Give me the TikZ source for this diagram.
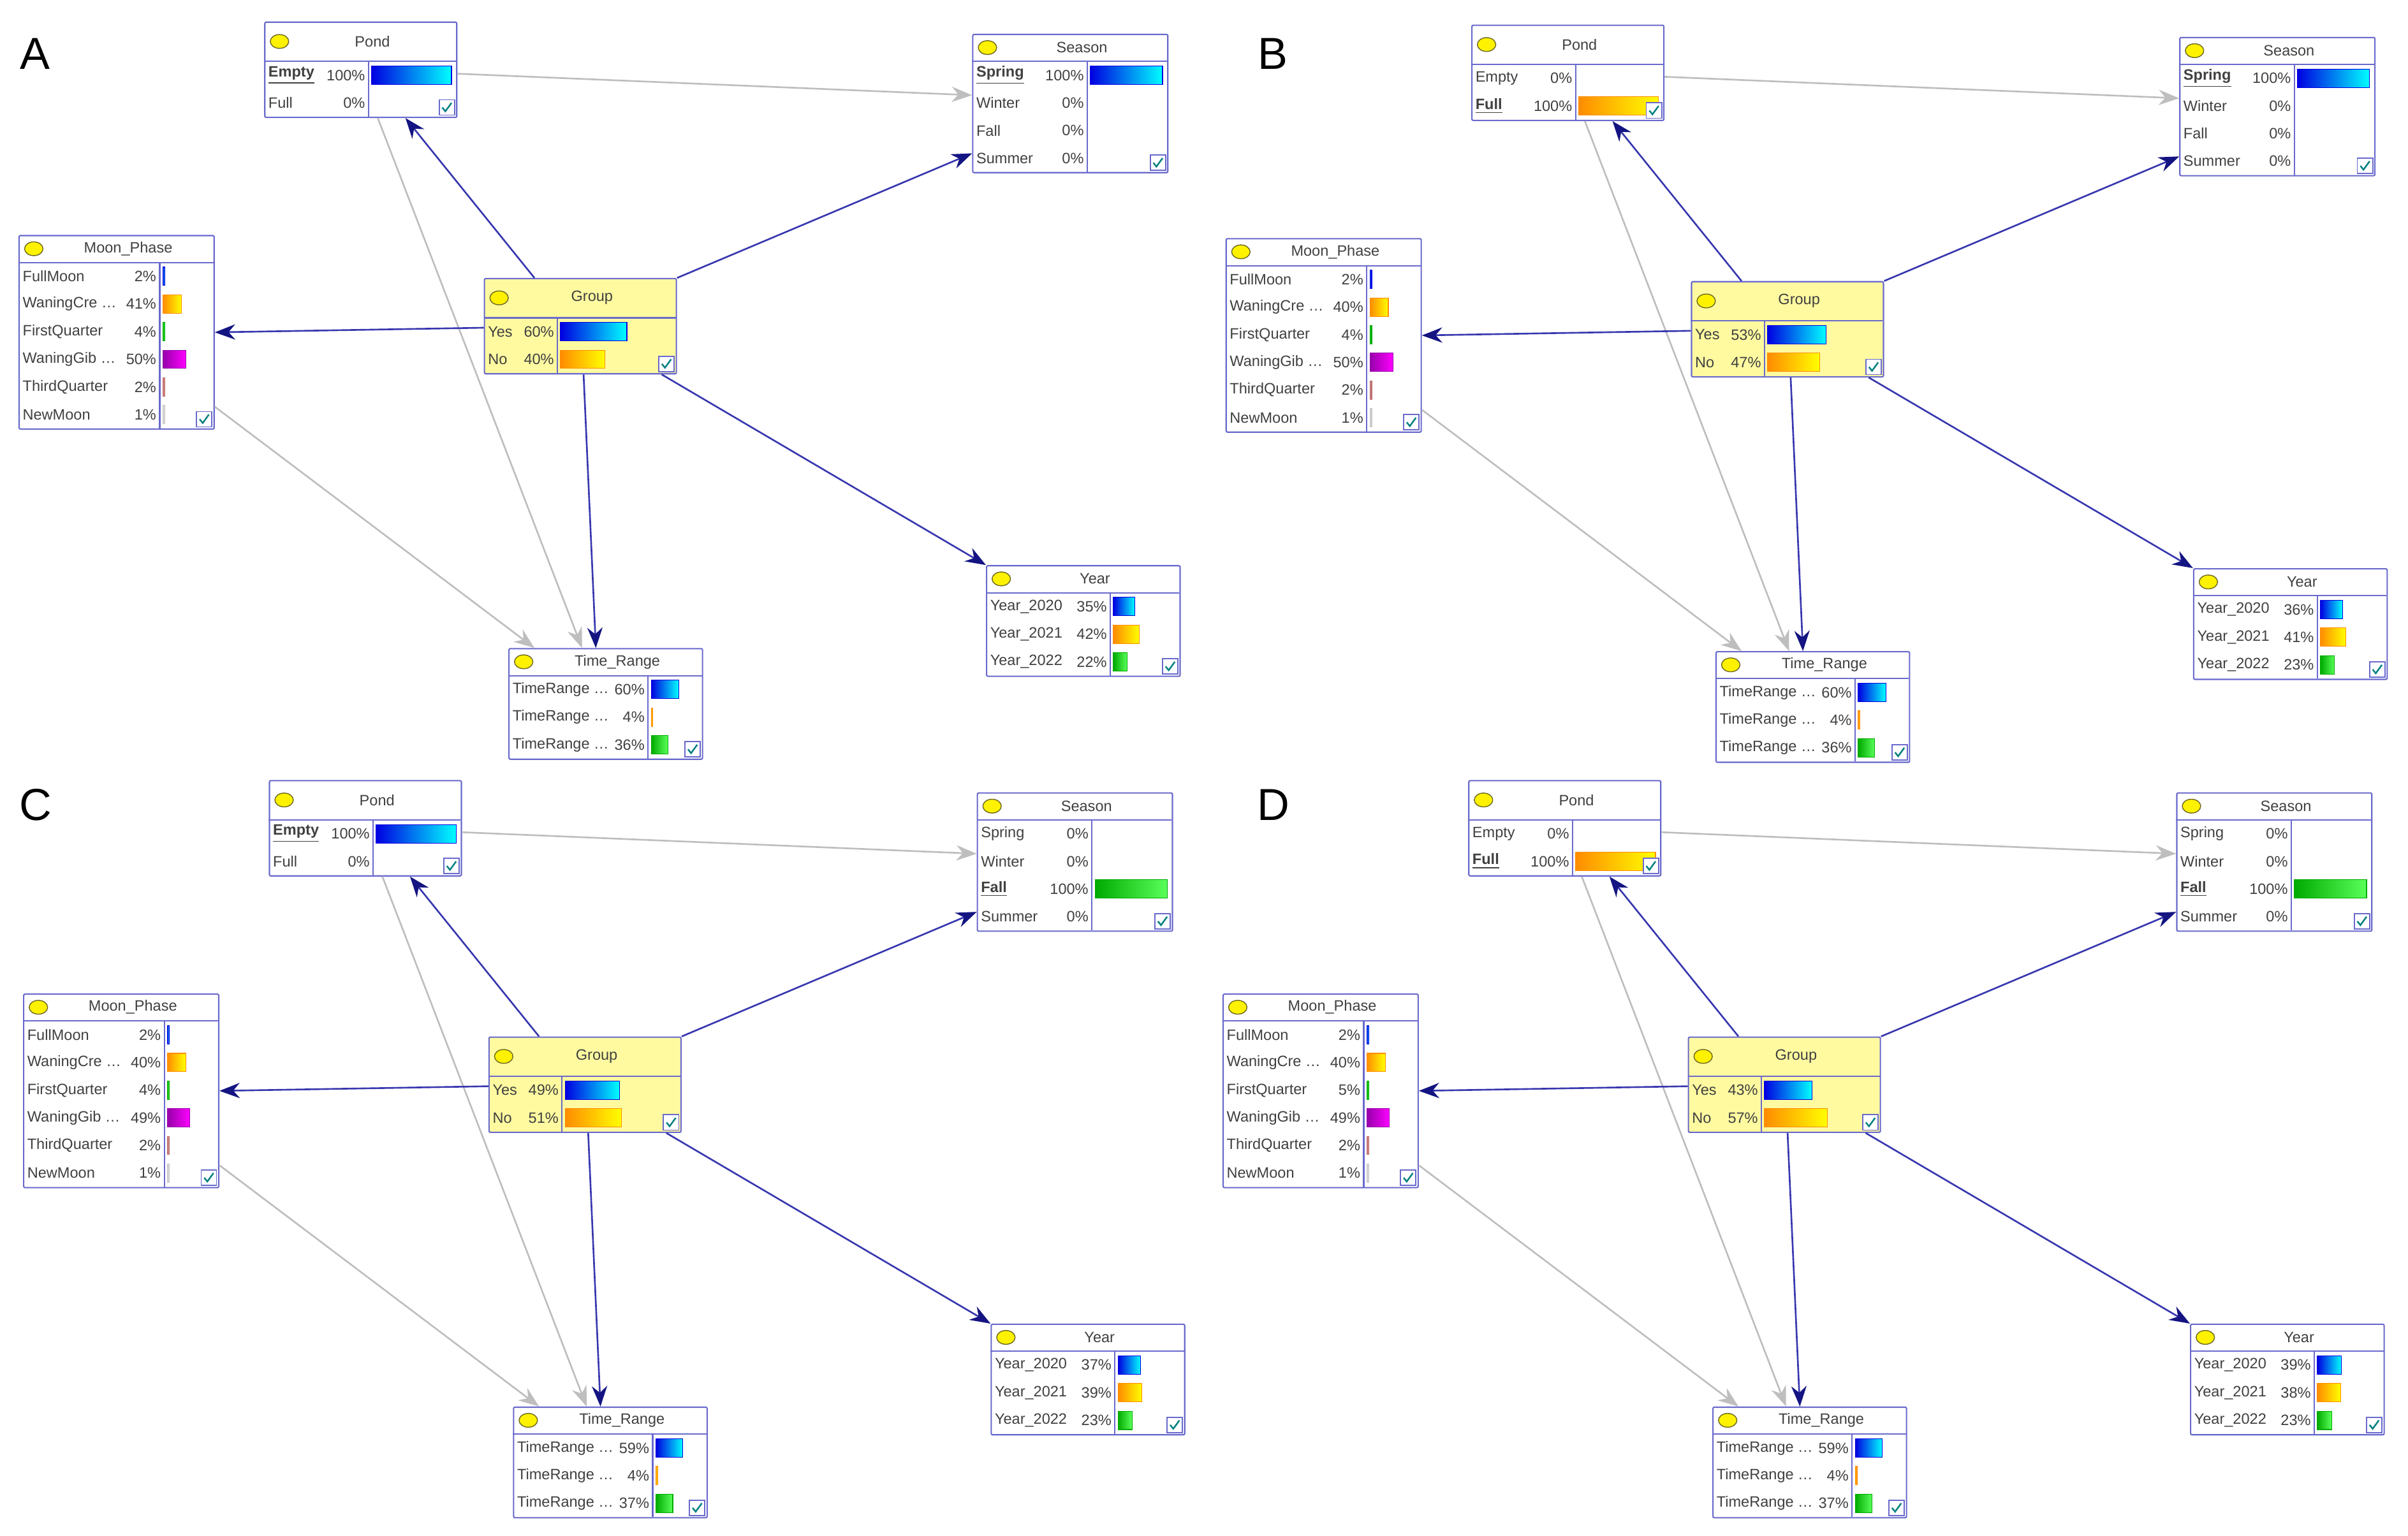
\documentclass[tikz,border=0pt]{standalone}
\usepackage{fontspec}
\setmainfont{Liberation Sans}
\usetikzlibrary{calc,arrows.meta}

\definecolor{bnline}{RGB}{105,105,205}
\definecolor{bnfill}{RGB}{255,250,160}
\definecolor{linkblue}{RGB}{55,55,175}
\definecolor{linkhead}{RGB}{20,20,130}
\definecolor{linkgray}{RGB}{190,190,190}
\definecolor{barLb}{RGB}{0,0,225}   \definecolor{barRb}{RGB}{0,255,255}
\definecolor{barLo}{RGB}{255,140,0} \definecolor{barRo}{RGB}{255,255,0}
\definecolor{barLg}{RGB}{0,170,0}   \definecolor{barRg}{RGB}{90,255,90}
\definecolor{barLm}{RGB}{150,0,170} \definecolor{barRm}{RGB}{255,0,255}
\definecolor{barLr}{RGB}{190,110,110} \definecolor{barRr}{RGB}{230,160,160}
\definecolor{barLk}{RGB}{200,200,200} \definecolor{barRk}{RGB}{230,230,230}

\tikzset{
  bnbox/.style={draw=bnline, line width=0.6pt, rounded corners=0.6pt, anchor=north west, inner sep=0pt},
  bnlink/.style={->, >={Stealth[length=3.2mm,width=2.4mm,color=linkhead]}, draw=linkblue, line width=0.75pt},
  bngray/.style={->, >={Stealth[length=3.2mm,width=2.4mm]}, draw=linkgray, line width=0.75pt, color=linkgray},
  bntext/.style={font=\fontsize{6.7}{7.5}\selectfont, text=black!75, inner sep=0pt},
  paneltitle/.style={font=\fontsize{20}{22}\selectfont}
}

\newcommand\tdots{\ \ldots}

% #1 name, #2 x, #3 y, #4 width, #5 split, #6 title, #7 fill, #8 rows count, #9 rows
\newcommand\bnnode[9]{%
  \pgfmathsetmacro\hh{#8==2?26:18}
  \pgfmathsetmacro\hgt{\hh+18*#8}
  \node[bnbox, fill=#7, minimum width=#4*0.02408cm, minimum height=\hgt*0.02408cm] (#1) at (#2,#3) {};
  \begin{scope}[shift={(#2,#3)}]
    \draw[bnline, line width=0.6pt] (0,\hh) -- (#4,\hh);
    \draw[bnline, line width=0.6pt] (#5,\hh) -- (#5,\hgt);
    \draw[fill=yellow, draw=olive!70!black, line width=0.4pt] (10,\hh/2) ellipse [x radius=6, y radius=4.5];
    \node[bntext] at (#4/2+8,\hh/2) {#6};
    \foreach \lab/\pc/\cl [count=\i from 0] in {#9} {
      \pgfmathsetmacro\yc{\hh+18*\i+9}
      \node[bntext, anchor=west] at (2.5,\yc) {\lab};
      \node[bntext, anchor=east] at (#5-2,\yc) {\pc\%};
      \ifnum\pc>0
        \pgfmathsetmacro\bw{max(1.2,\pc*(#4-#5-5)/100)}
        \shade[left color=barL\cl, right color=barR\cl, draw=barL\cl, line width=0.3pt]
          (#5+2,\yc-6) rectangle (#5+2+\bw,\yc+6);
      \fi
    }
    \draw[bnline, fill=white, line width=0.5pt] (#4-11,\hgt-11) rectangle (#4-1,\hgt-1);
    \draw[teal, line width=0.7pt] (#4-9,\hgt-6) -- (#4-7,\hgt-3.5) -- (#4-3,\hgt-9);
  \end{scope}
}

% links of one panel
\newcommand\bnlinks[1]{%
  \draw[bngray] ($(pond#1.north east)+(0,34)$) -- ($(season#1.north west)+(0,40)$);
  \draw[bngray] ($(pond#1.south west)+(74,0)$) -- ($(time#1.north west)+(48,0)$);
  \draw[bngray] ($(moon#1.south east)+(0,-15)$) -- ($(time#1.north west)+(17,0)$);
  \draw[bnlink] ($(group#1.north west)+(33,0)$) -- ($(pond#1.south west)+(92,0)$);
  \draw[bnlink] (group#1.north east) -- ($(season#1.south west)+(0,-13)$);
  \draw[bnlink] ($(group#1.west)+(0,1)$) -- (moon#1.east);
  \draw[bnlink] ($(group#1.south west)+(65,0)$) -- ($(time#1.north west)+(57,0)$);
  \draw[bnlink] ($(group#1.south east)+(-10,0)$) -- (year#1.north west);
}

\begin{document}
\begin{tikzpicture}[x=0.02408cm, y=-0.02408cm]
\useasboundingbox (0,0) rectangle (1568,1000);

% Panel A
\begin{scope}
\bnnode{pondA}{172}{14}{125}{68}{Pond}{white}{2}{{\textbf{\underline{Empty}}}/100/b, Full/0/o}
\bnnode{seasonA}{633}{22}{127}{75}{Season}{white}{4}{{\textbf{\underline{Spring}}}/100/b, Winter/0/o, Fall/0/g, Summer/0/m}
\bnnode{moonA}{12}{153}{127}{92}{Moon\_Phase}{white}{6}{FullMoon/2/b, {WaningCre\tdots}/41/o, FirstQuarter/4/g, {WaningGib\tdots}/50/m, ThirdQuarter/2/r, NewMoon/1/k}
\bnnode{groupA}{315}{181}{125}{48}{Group}{bnfill}{2}{Yes/60/b, No/40/o}
\bnnode{yearA}{642}{368}{126}{81}{Year}{white}{3}{Year\_2020/35/b, Year\_2021/42/o, Year\_2022/22/g}
\bnnode{timeA}{331}{422}{126}{91}{Time\_Range}{white}{3}{{TimeRange\tdots}/60/b, {TimeRange\tdots}/4/o, {TimeRange\tdots}/36/g}
\bnlinks{A}
\end{scope}
\node[paneltitle] (titleA) at (23,35) {A};

% Panel B
\begin{scope}[shift={(786,2)}]
\bnnode{pondB}{172}{14}{125}{68}{Pond}{white}{2}{Empty/0/b, {\textbf{\underline{Full}}}/100/o}
\bnnode{seasonB}{633}{22}{127}{75}{Season}{white}{4}{{\textbf{\underline{Spring}}}/100/b, Winter/0/o, Fall/0/g, Summer/0/m}
\bnnode{moonB}{12}{153}{127}{92}{Moon\_Phase}{white}{6}{FullMoon/2/b, {WaningCre\tdots}/40/o, FirstQuarter/4/g, {WaningGib\tdots}/50/m, ThirdQuarter/2/r, NewMoon/1/k}
\bnnode{groupB}{315}{181}{125}{48}{Group}{bnfill}{2}{Yes/53/b, No/47/o}
\bnnode{yearB}{642}{368}{126}{81}{Year}{white}{3}{Year\_2020/36/b, Year\_2021/41/o, Year\_2022/23/g}
\bnnode{timeB}{331}{422}{126}{91}{Time\_Range}{white}{3}{{TimeRange\tdots}/60/b, {TimeRange\tdots}/4/o, {TimeRange\tdots}/36/g}
\bnlinks{B}
\end{scope}
\node[paneltitle] (titleB) at (829,35) {B};

% Panel C
\begin{scope}[shift={(3,494)}]
\bnnode{pondC}{172}{14}{125}{68}{Pond}{white}{2}{{\textbf{\underline{Empty}}}/100/b, Full/0/o}
\bnnode{seasonC}{633}{22}{127}{75}{Season}{white}{4}{Spring/0/b, Winter/0/o, {\textbf{\underline{Fall}}}/100/g, Summer/0/m}
\bnnode{moonC}{12}{153}{127}{92}{Moon\_Phase}{white}{6}{FullMoon/2/b, {WaningCre\tdots}/40/o, FirstQuarter/4/g, {WaningGib\tdots}/49/m, ThirdQuarter/2/r, NewMoon/1/k}
\bnnode{groupC}{315}{181}{125}{48}{Group}{bnfill}{2}{Yes/49/b, No/51/o}
\bnnode{yearC}{642}{368}{126}{81}{Year}{white}{3}{Year\_2020/37/b, Year\_2021/39/o, Year\_2022/23/g}
\bnnode{timeC}{331}{422}{126}{91}{Time\_Range}{white}{3}{{TimeRange\tdots}/59/b, {TimeRange\tdots}/4/o, {TimeRange\tdots}/37/g}
\bnlinks{C}
\end{scope}
\node[paneltitle] (titleC) at (23,524) {C};

% Panel D
\begin{scope}[shift={(784,494)}]
\bnnode{pondD}{172}{14}{125}{68}{Pond}{white}{2}{Empty/0/b, {\textbf{\underline{Full}}}/100/o}
\bnnode{seasonD}{633}{22}{127}{75}{Season}{white}{4}{Spring/0/b, Winter/0/o, {\textbf{\underline{Fall}}}/100/g, Summer/0/m}
\bnnode{moonD}{12}{153}{127}{92}{Moon\_Phase}{white}{6}{FullMoon/2/b, {WaningCre\tdots}/40/o, FirstQuarter/5/g, {WaningGib\tdots}/49/m, ThirdQuarter/2/r, NewMoon/1/k}
\bnnode{groupD}{315}{181}{125}{48}{Group}{bnfill}{2}{Yes/43/b, No/57/o}
\bnnode{yearD}{642}{368}{126}{81}{Year}{white}{3}{Year\_2020/39/b, Year\_2021/38/o, Year\_2022/23/g}
\bnnode{timeD}{331}{422}{126}{91}{Time\_Range}{white}{3}{{TimeRange\tdots}/59/b, {TimeRange\tdots}/4/o, {TimeRange\tdots}/37/g}
\bnlinks{D}
\end{scope}
\node[paneltitle] (titleD) at (829,524) {D};
\end{tikzpicture}
\end{document}
